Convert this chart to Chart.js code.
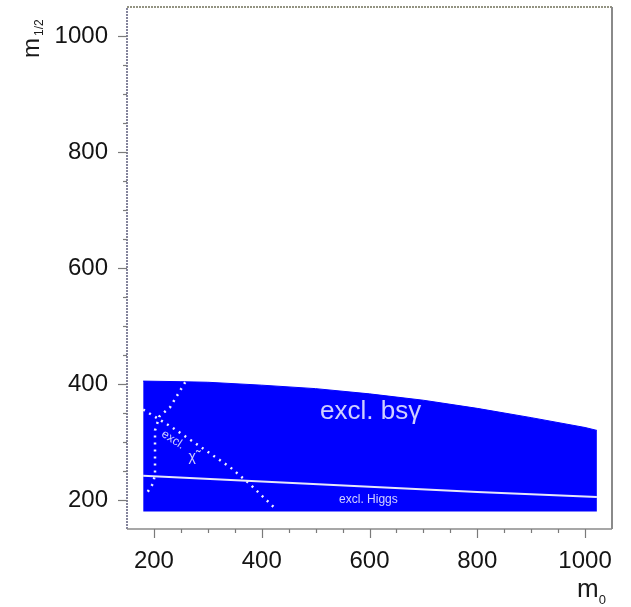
<!DOCTYPE html>
<html><head><meta charset="utf-8">
<script src="https://cdn.jsdelivr.net/npm/chart.js@4/dist/chart.umd.min.js"></script>
<style>html,body{margin:0;padding:0;background:#fff;}#wrap{width:631px;height:607px;}</style>
</head><body><div id="wrap"><canvas id="c" width="631" height="607"></canvas></div>
<script>
// ---- data ----
const xTickLabels = [200, 400, 600, 800, 1000];
const yTickLabels = [200, 400, 600, 800, 1000];
// excluded b->s gamma region: upper boundary (m0, m1/2), lower edge at m1/2 = 180
const bsgM0  = [180, 250, 300, 400, 500, 600, 700, 800, 900, 1000, 1022];
const bsgTop = [405, 404, 403, 398, 392, 383, 372, 358, 342, 325, 320];
const bsgBottom = 180;
// Higgs exclusion line
const higgsM0  = [180, 400, 600, 800, 1022];
const higgsM12 = [242, 232, 223, 214, 205];
// chargino / neutralino dotted contours
const chiAM0  = [258, 230, 210, 202, 202, 198, 187];
const chiAM12 = [403, 360, 344, 320, 244, 228, 212];
const chiBM0  = [180, 234, 286, 342, 375, 422];
const chiBM12 = [356, 325, 292, 256, 230, 188];
// text labels
const labels = [
  {text: 'excl. bs\u03b3', m0: 602, m12: 339, size: 26, rot: 0},
  {text: 'excl. Higgs', m0: 598, m12: 195, size: 12, rot: 0},
  {text: 'excl.', m0: 232, m12: 299, size: 12, rot: 33},
  {text: '\u03c7\u0303', m0: 271, m12: 268, size: 14, rot: 0}
];

const pts = (xs, ys) => xs.map((x, i) => ({x, y: ys[i]}));
const FONT = "'Liberation Sans', Arial, sans-serif";

const framePlugin = {
  id: 'frame',
  afterDraw(chart) {
    const ctx = chart.ctx, a = chart.chartArea;
    const xs = chart.scales.x, ys = chart.scales.y;
    ctx.save();
    // frame
    ctx.lineWidth = 1.5;
    ctx.strokeStyle = '#5c5c7c';
    ctx.setLineDash([2, 1]);
    ctx.beginPath(); ctx.moveTo(a.left, a.bottom); ctx.lineTo(a.left, a.top); ctx.stroke();
    ctx.strokeStyle = '#70705a';
    ctx.beginPath(); ctx.moveTo(a.left, a.top); ctx.lineTo(a.right, a.top); ctx.stroke();
    ctx.setLineDash([]);
    ctx.strokeStyle = '#8a8a8a'; ctx.lineWidth = 2;
    ctx.beginPath(); ctx.moveTo(a.right, a.top); ctx.lineTo(a.right, a.bottom); ctx.stroke();
    ctx.lineWidth = 1.5;
    ctx.beginPath(); ctx.moveTo(a.left, a.bottom); ctx.lineTo(a.right, a.bottom); ctx.stroke();
    // tick marks
    ctx.strokeStyle = '#7a7a7a'; ctx.lineWidth = 1.2;
    xs.ticks.forEach(t => {
      if (t.value <= xs.min || t.value >= xs.max) return;
      const px = Math.round(xs.getPixelForValue(t.value)) + 0.5;
      const len = xTickLabels.includes(t.value) ? 9 : 4;
      ctx.beginPath(); ctx.moveTo(px, a.bottom); ctx.lineTo(px, a.bottom + len); ctx.stroke();
    });
    ys.ticks.forEach(t => {
      if (t.value <= ys.min || t.value >= ys.max) return;
      const py = Math.round(ys.getPixelForValue(t.value)) + 0.5;
      const len = yTickLabels.includes(t.value) ? 9 : 4;
      ctx.beginPath(); ctx.moveTo(a.left, py); ctx.lineTo(a.left - len, py); ctx.stroke();
    });
    // in-plot labels
    labels.forEach(l => {
      ctx.save();
      ctx.translate(xs.getPixelForValue(l.m0), ys.getPixelForValue(l.m12));
      ctx.rotate(l.rot * Math.PI / 180);
      ctx.font = l.size + 'px ' + FONT;
      ctx.fillStyle = 'rgba(225,225,255,0.92)';
      ctx.textAlign = 'center'; ctx.textBaseline = 'alphabetic';
      ctx.fillText(l.text, 0, 0);
      ctx.restore();
    });
    // axis titles
    ctx.fillStyle = '#1a1a1a';
    ctx.save();
    ctx.translate(39, 58);
    ctx.rotate(-Math.PI / 2);
    ctx.font = '24px ' + FONT; ctx.textAlign = 'left'; ctx.textBaseline = 'alphabetic';
    ctx.fillText('m', 0, 0);
    const mw = ctx.measureText('m').width;
    ctx.font = '12px ' + FONT;
    ctx.fillText('1/2', mw + 2, 4);
    ctx.restore();
    ctx.font = '26px ' + FONT; ctx.textAlign = 'left'; ctx.textBaseline = 'alphabetic';
    ctx.fillText('m', 577, 597);
    const mw2 = ctx.measureText('m').width;
    ctx.font = '13px ' + FONT;
    ctx.fillText('0', 577 + mw2, 604);
    ctx.restore();
  }
};

const tickCfg = (labelsArr, pad) => ({
  stepSize: 50, autoSkip: false, maxRotation: 0, padding: pad,
  color: '#141414', font: {family: FONT, size: 24},
  callback: v => labelsArr.includes(v) ? String(v) : ''
});

new Chart(document.getElementById('c'), {
  type: 'scatter',
  data: {
    datasets: [
      {data: pts(bsgM0, bsgTop), showLine: true, borderColor: '#0000ff', borderWidth: 1,
       backgroundColor: '#0000ff', fill: {value: bsgBottom}, pointRadius: 0, order: 10, tension: 0},
      {data: pts(higgsM0, higgsM12), showLine: true, borderColor: 'rgba(232,232,250,1)', borderWidth: 2,
       pointRadius: 0, fill: false, order: 1},
      {data: pts(chiAM0, chiAM12), showLine: true, borderColor: 'rgba(240,240,255,1)', borderWidth: 2.5,
       borderDash: [2, 5], pointRadius: 0, fill: false, order: 1},
      {data: pts(chiBM0, chiBM12), showLine: true, borderColor: 'rgba(240,240,255,1)', borderWidth: 2.5,
       borderDash: [2, 5], pointRadius: 0, fill: false, order: 1}
    ]
  },
  options: {
    responsive: false, animation: false, devicePixelRatio: 1,
    layout: {padding: {top: 7, right: 19, left: 0, bottom: 0}},
    plugins: {legend: {display: false}, tooltip: {enabled: false}},
    scales: {
      x: {type: 'linear', min: 150, max: 1050, ticks: tickCfg(xTickLabels, 18),
          grid: {display: false, drawTicks: false}, border: {display: false},
          afterFit: s => { s.height = 78; s.paddingLeft = 0; s.paddingRight = 0; }},
      y: {type: 'linear', min: 150, max: 1050, ticks: tickCfg(yTickLabels, 19),
          grid: {display: false, drawTicks: false}, border: {display: false},
          afterFit: s => { s.width = 127; s.paddingTop = 0; s.paddingBottom = 0; }}
    }
  },
  plugins: [framePlugin]
});
</script></body></html>
